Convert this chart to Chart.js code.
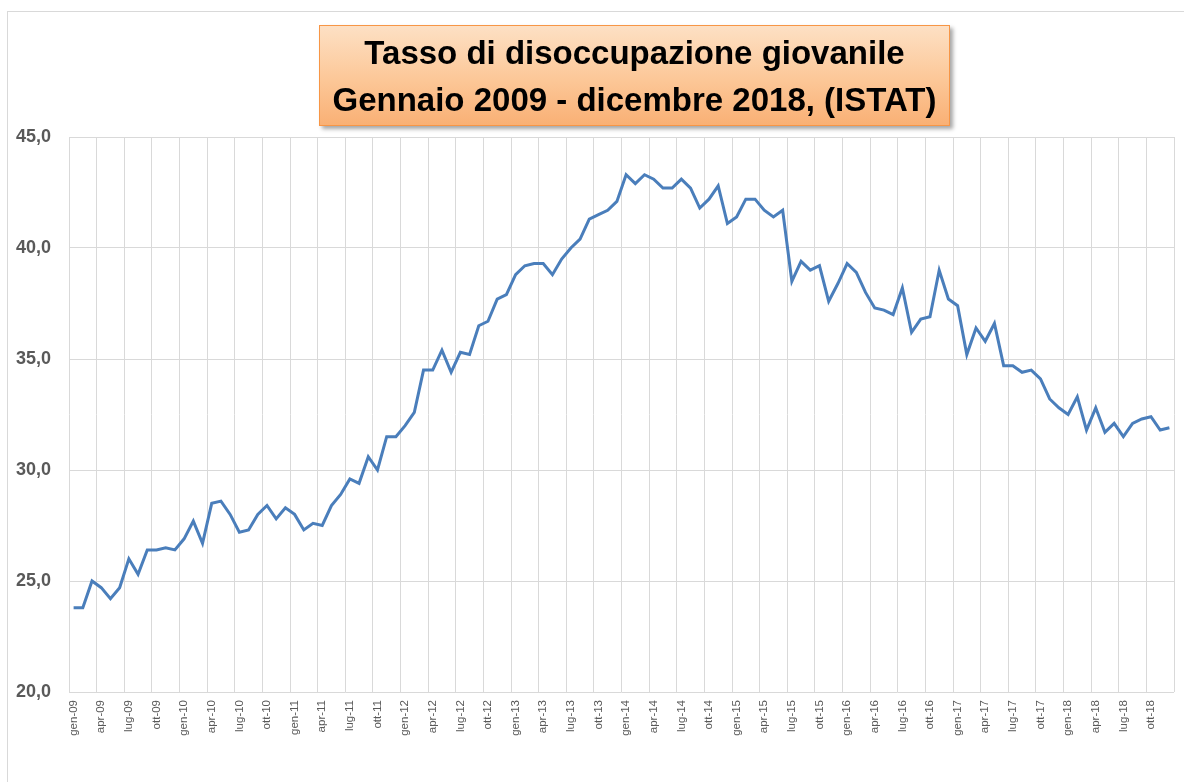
<!DOCTYPE html>
<html>
<head>
<meta charset="utf-8">
<script src="https://cdn.jsdelivr.net/npm/chart.js@4.4.1/dist/chart.umd.min.js"></script>
<style>
  html, body { margin: 0; padding: 0; background: #fff; }
  #wrap { position: relative; width: 1184px; height: 782px; overflow: hidden; }
  #frame { position: absolute; left: 7px; top: 11px; width: 1200px; height: 800px; border: 1px solid #d9d9d9; }
  #chart { position: absolute; left: 0; top: 0; }
  #title {
    position: absolute; left: 319px; top: 25px; width: 631px; height: 101px;
    border: 1px solid #f79646;
    background: linear-gradient(to bottom, #fde0c4 0%, #fcc797 55%, #f9b075 100%);
    box-shadow: 3px 3px 4px rgba(0,0,0,0.35);
    font-family: "Liberation Sans", Arial, sans-serif; font-weight: bold; font-size: 33px;
    line-height: 47px; text-align: center; color: #000;
    box-sizing: border-box; padding-top: 3px; white-space: nowrap;
  }
</style>
</head>
<body>
<div id="wrap">
  <div id="frame"></div>
  <canvas id="chart" width="1184" height="782"></canvas>
  <div id="title">Tasso di disoccupazione giovanile<br>Gennaio 2009 - dicembre 2018, (ISTAT)</div>
</div>
<script>
// mesi e anni per le etichette
const months = ["gen", "feb", "mar", "apr", "mag", "giu", "lug", "ago", "set", "ott", "nov", "dic"];
const years = ["09", "10", "11", "12", "13", "14", "15", "16", "17", "18"];
const labels = years.flatMap(y => months.map(m => `${m}-${y}`));

// tasso di disoccupazione giovanile (%), gen-09 .. dic-18
const rate2009 = [23.8, 23.8, 25.0, 24.7, 24.2, 24.7, 26.0, 25.3, 26.4, 26.4, 26.5, 26.4];
const rate2010 = [26.9, 27.7, 26.7, 28.5, 28.6, 28.0, 27.2, 27.3, 28.0, 28.4, 27.8, 28.3];
const rate2011 = [28.0, 27.3, 27.6, 27.5, 28.4, 28.9, 29.6, 29.4, 30.6, 30.0, 31.5, 31.5];
const rate2012 = [32.0, 32.6, 34.5, 34.5, 35.4, 34.4, 35.3, 35.2, 36.5, 36.7, 37.7, 37.9];
const rate2013 = [38.8, 39.2, 39.3, 39.3, 38.8, 39.5, 40.0, 40.4, 41.3, 41.5, 41.7, 42.1];
const rate2014 = [43.3, 42.9, 43.3, 43.1, 42.7, 42.7, 43.1, 42.7, 41.8, 42.2, 42.8, 41.1];
const rate2015 = [41.4, 42.2, 42.2, 41.7, 41.4, 41.7, 38.5, 39.4, 39.0, 39.2, 37.6, 38.4];
const rate2016 = [39.3, 38.9, 38.0, 37.3, 37.2, 37.0, 38.2, 36.2, 36.8, 36.9, 39.0, 37.7];
const rate2017 = [37.4, 35.2, 36.4, 35.8, 36.6, 34.7, 34.7, 34.4, 34.5, 34.1, 33.2, 32.8];
const rate2018 = [32.5, 33.3, 31.8, 32.8, 31.7, 32.1, 31.5, 32.1, 32.3, 32.4, 31.8, 31.9];

const rates = [].concat(rate2009, rate2010, rate2011, rate2012, rate2013,
                        rate2014, rate2015, rate2016, rate2017, rate2018);

const gridColor = "#d9d9d9";
const labelColor = "#595959";

new Chart(document.getElementById("chart"), {
  type: "line",
  data: {
    labels,
    datasets: [{
      data: rates,
      borderColor: "#4a7ebb",
      borderWidth: 3,
      pointRadius: 0,
      tension: 0,
      fill: false
    }]
  },
  options: {
    responsive: false,
    animation: false,
    layout: { padding: { top: 137, right: 10, left: 0, bottom: 0 } },
    plugins: {
      legend: { display: false },
      tooltip: { enabled: false }
    },
    scales: {
      x: {
        offset: true,
        border: { display: false },
        grid: {
          offset: true,
          drawTicks: false,
          lineWidth: 1,
          color: ctx => (ctx.type !== "tick" || ctx.index % 3 === 0) ? gridColor : "rgba(0,0,0,0)"
        },
        ticks: {
          autoSkip: false,
          minRotation: 90,
          maxRotation: 90,
          padding: 8,
          color: labelColor,
          font: { family: "Liberation Sans", size: 11.5 },
          callback: function (v, i) { return i % 3 === 0 ? this.getLabelForValue(v) : ""; }
        },
        // keep the plot edges where the reference has them
        afterFit: s => { s.height = 90; s.paddingLeft = 0; s.paddingRight = 0; }
      },
      y: {
        min: 20,
        max: 45,
        border: { display: false },
        grid: { color: gridColor, lineWidth: 1, drawTicks: false },
        ticks: {
          stepSize: 5,
          padding: 18,
          color: labelColor,
          font: { family: "Liberation Sans", size: 18, weight: "bold" },
          callback: v => v.toFixed(1).replace(".", ",")
        },
        afterFit: s => { s.width = 69; }
      }
    }
  }
});
</script>
</body>
</html>
